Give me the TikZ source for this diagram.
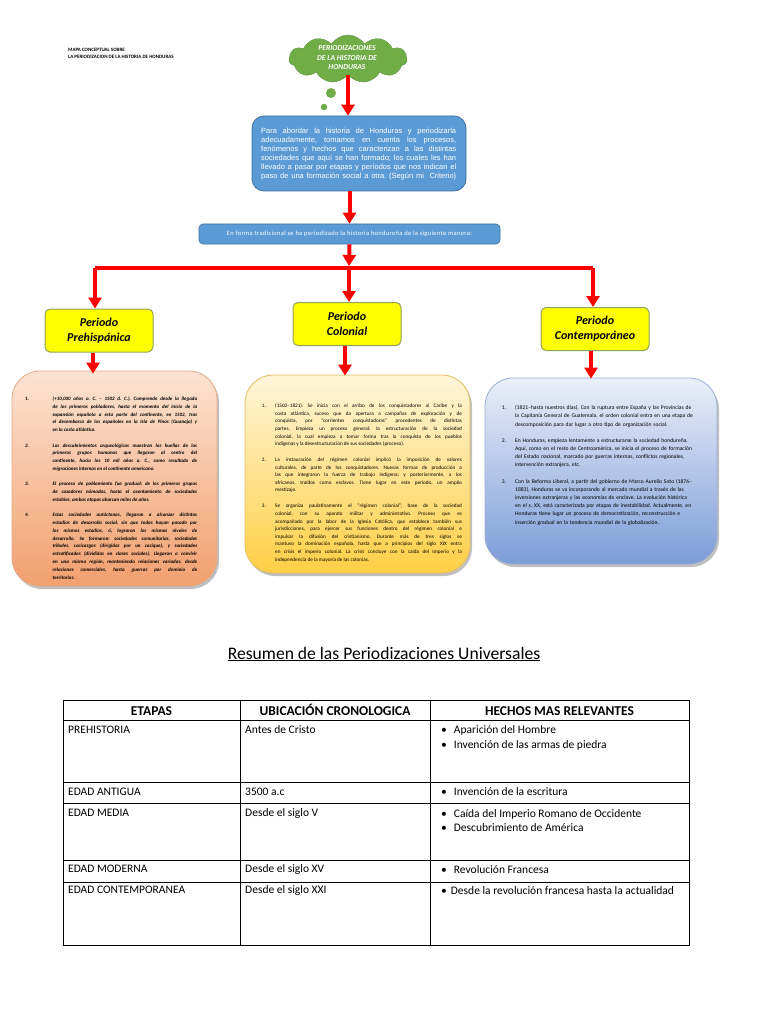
\documentclass[tikz,border=0pt]{standalone}
\usepackage{fontspec}
\setmainfont{Carlito}
\newfontfamily\arialfont{Liberation Sans}
\usetikzlibrary{arrows.meta,shapes.symbols,shadows}
\definecolor{cgreen}{HTML}{70AD47}
\definecolor{bfill}{HTML}{5B9BD5}
\definecolor{bborder}{HTML}{41719C}
\definecolor{yfill}{HTML}{FFFF00}
\definecolor{yborder}{HTML}{8FA35A}
\definecolor{redc}{HTML}{FF0000}
\definecolor{otop}{HTML}{FCE3D3}
\definecolor{obot}{HTML}{F2A06E}
\definecolor{oborder}{HTML}{E3AA88}
\definecolor{gtop}{HTML}{FFF6DA}
\definecolor{gbot}{HTML}{FFCF45}
\definecolor{gborder}{HTML}{E2BE5C}
\definecolor{ltop}{HTML}{EBEFF9}
\definecolor{lbot}{HTML}{7C9DD8}
\definecolor{lborder}{HTML}{98ADD4}
\newcommand\numitem[3]{\par\noindent\hangindent=#1\hangafter=1\makebox[#1][l]{#2}#3\par}
\frenchspacing
\begin{document}
\frenchspacing
\begin{tikzpicture}[x=1pt,y=-1pt,
  redarrow/.style={draw=redc, line width=4pt, -{Triangle[width=13pt,length=11pt]}},
  redline/.style={draw=redc, line width=4pt},
  pbox/.style={draw=yborder, fill=yfill, line width=1pt, rounded corners=5pt,
    minimum width=108pt, minimum height=43pt, align=center, inner sep=0,
    font=\fontsize{12}{15}\selectfont\bfseries\itshape},
  dbox/.style={rounded corners=28pt, line width=0.8pt,
    drop shadow={shadow xshift=2pt, shadow yshift=-3pt, opacity=0.35, fill=black!70}},
  bubble/.style={circle, fill=cgreen, inner sep=0},
  tline/.style={draw=black, line width=0.9pt},
  thead/.style={inner sep=0, anchor=base, font=\fontsize{13.5}{15}\selectfont\bfseries},
  tcell/.style={inner sep=0, anchor=base west, font=\fontsize{11.5}{13}\selectfont}
]
\useasboundingbox[fill=white] (0,0) rectangle (768,1024);

% header title
\node[anchor=north west, inner sep=0, align=left, font=\fontsize{5}{7}\selectfont\bfseries] (maptitle) at (68,48)
  {MAPA CONCEPTUAL SOBRE\\LA PERIODIZACION DE LA HISTORIA DE HONDURAS};

% cloud
\node[cloud, cloud puffs=11, cloud puff arc=115, aspect=2.4, fill=cgreen, draw=cgreen!85!black,
  line width=0.4pt, minimum width=118pt, minimum height=48pt, inner sep=0] (cloud) at (348,59) {};
\node[inner sep=0, align=center, text=white, font=\fontsize{7.6}{9.5}\selectfont\bfseries\itshape] (cloudtxt) at (347,58)
  {PERIODIZACIONES\\DE LA HISTORIA DE\\HONDURAS};
\node[bubble, minimum size=10pt] (bub1) at (331,93) {};
\node[bubble, minimum size=6.5pt] (bub2) at (324,107) {};
\node[bubble, minimum size=2pt] (bub3) at (318.5,117.5) {};

% intro box
\node[draw=bborder, fill=bfill, rounded corners=12pt, line width=0.8pt, minimum width=214pt, minimum height=75pt] (intro) at (359,153.5) {};
\node[anchor=north west, inner sep=0, text width=195pt, align=justify, text=white,
  font=\arialfont\fontsize{7.5}{9}\selectfont] (introtxt) at (261,127.5)
  {\parfillskip=0pt Para abordar la historia de Honduras y periodizarla\linebreak
   adecuadamente, tomamos en cuenta los procesos,\linebreak
   fenómenos y hechos que caracterizan a las distintas\linebreak
   sociedades que aquí se han formado; los cuales les han\linebreak
   llevado a pasar por etapas y períodos que nos indican el\linebreak
   paso de una formación social a otra. (Según mi\ \ Criterio)\par};

% bar
\node[draw=bborder, fill=bfill, rounded corners=4pt, line width=0.6pt, minimum width=301pt, minimum height=20pt,
  text=white, inner sep=0, font=\fontsize{6.5}{8}\selectfont\addfontfeature{LetterSpace=5}] (bar) at (349.5,234)
  {En forma tradicional se ha periodizado la historia hondureña de la siguiente manera:};

% period boxes
\node[pbox] (p1) at (99,330.5) {Periodo\\Prehispánica};
\node[pbox] (p2) at (347,324) {Periodo\\Colonial};
\node[pbox] (p3) at (595,329) {Periodo\\Contemporáneo};

% detail boxes
\node[dbox, draw=oborder, top color=otop, bottom color=obot, minimum width=205pt, minimum height=215pt] (d1) at (114.5,478.5) {};
\node[dbox, draw=gborder, top color=gtop, bottom color=gbot, minimum width=225pt, minimum height=198pt] (d2) at (357.5,474) {};
\node[dbox, draw=lborder, top color=ltop, bottom color=lbot, minimum width=232pt, minimum height=186pt] (d3) at (601,471) {};

\node[anchor=north west, inner sep=0, text width=172pt, align=justify,
  font=\fontsize{5}{7.8}\selectfont\bfseries\itshape] (d1txt) at (25,385)
  {\parskip=7.5pt\frenchspacing
   \numitem{27.5pt}{1.}{(+10,000 años a. C. – 1502 d. C.). Comprende desde la llegada\linebreak de los primeros pobladores, hasta el momento del inicio de la\linebreak expansión española a esta parte del continente, en 1502, tras\linebreak el desembarco de los españoles en la Isla de Pinos (Guanaja) y\linebreak en la costa atlántica.}
   \numitem{27.5pt}{2.}{Los descubrimientos arqueológicos muestran las huellas de los\linebreak primeros grupos humanos que llegaron al centro del\linebreak continente, hacia los 10 mil años a. C., como resultado de\linebreak migraciones internas en el continente americano.}
   \numitem{27.5pt}{3.}{El proceso de poblamiento fue gradual: de los primeros grupos\linebreak de cazadores nómadas, hasta el asentamiento de sociedades\linebreak estables, ambas etapas abarcan miles de años.}
   \numitem{27.5pt}{4.}{Estas sociedades autóctonas, llegaron a alcanzar distintos\linebreak estadios de desarrollo social, sin que todas hayan pasado por\linebreak los mismos estadios, ó, lograran los mismos niveles de\linebreak desarrollo. Se formaron: sociedades comunitarias, sociedades\linebreak tribales, cacicazgos (dirigidas por un cacique), y sociedades\linebreak estratificadas (divididas en clases sociales). Llegaron a convivir\linebreak en una misma región, manteniendo relaciones variadas, desde\linebreak relaciones comerciales, hasta guerras por dominio de\linebreak territorios.}};

\node[anchor=north west, inner sep=0, text width=200pt, align=justify,
  font=\fontsize{5.2}{7.6}\selectfont] (d2txt) at (261.7,391.5)
  {\parskip=8.3pt\frenchspacing
   \numitem{13.3pt}{1.}{(1502–1821). Se inicia con el arribo de los conquistadores al Caribe y la\linebreak costa atlántica, suceso que da apertura a campañas de exploración y de\linebreak conquista, por “corrientes conquistadoras” procedentes de distintas\linebreak partes. Empieza un proceso general: la estructuración de la sociedad\linebreak colonial, la cual empieza a tomar forma tras la conquista de los pueblos\linebreak indígenas y la desestructuración de sus sociedades (proceso).}
   \numitem{13.3pt}{2.}{La instauración del régimen colonial implicó la imposición de valores\linebreak culturales, de parte de los conquistadores. Nuevas formas de producción a\linebreak las que integraron la fuerza de trabajo indígena; y posteriormente, a los\linebreak africanos, traídos como esclavos. Tiene lugar en este período, un amplio\linebreak mestizaje.}
   \numitem{13.3pt}{3.}{Se organiza paulatinamente el “régimen colonial”, base de la sociedad\linebreak colonial, con su aparato militar y administrativo. Proceso que es\linebreak acompañado por la labor de la Iglesia Católica, que establece también sus\linebreak jurisdicciones, para ejercer sus funciones dentro del régimen colonial e\linebreak impulsar la difusión del cristianismo. Durante más de tres siglos se\linebreak mantuvo la dominación española, hasta que a principios del siglo XIX entra\linebreak en crisis el imperio colonial. La crisis concluye con la caída del Imperio y la\linebreak independencia de la mayoría de las colonias.}};

\node[anchor=north west, inner sep=0, text width=210pt, align=left,
  font=\fontsize{5.6}{8.1}\selectfont] (d3txt) at (501.7,393)
  {\parskip=8.5pt\frenchspacing
   \numitem{13.3pt}{1.}{(1821–hasta nuestros días). Con la ruptura entre España y las Provincias de\newline la Capitanía General de Guatemala, el orden colonial entra en una etapa de\newline descomposición para dar lugar a otro tipo de organización social.}
   \numitem{13.3pt}{2.}{En Honduras, empieza lentamente a estructurarse la sociedad hondureña.\newline Aquí, como en el resto de Centroamérica, se inicia el proceso de formación\newline del Estado nacional, marcado por guerras internas, conflictos regionales,\newline intervención extranjera, etc.}
   \numitem{13.3pt}{3.}{Con la Reforma Liberal, a partir del gobierno de Marco Aurelio Soto (1876–\newline 1883), Honduras se va incorporando al mercado mundial a través de las\newline inversiones extranjeras y las economías de enclave. La evolución histórica\newline en el s. XX, está caracterizada por etapas de inestabilidad. Actualmente, en\newline Honduras tiene lugar un proceso de democratización, reconstrucción e\newline inserción gradual en la tendencia mundial de la globalización.}};

% connectors
\coordinate (jc) at (349,268);
\coordinate (jl) at (95,268);
\coordinate (jr) at (593,268);
\draw[redarrow] (cloud.south) -- (cloud.south |- intro.north);
\draw[redarrow] (intro.south -| bar.north) -- (bar.north);
\draw[redarrow] (bar.south) -- ([yshift=2pt]jc);
\draw[redline] (jl) -- (jr);
\draw[redarrow] (jl) -- (jl |- p1.north);
\draw[redarrow] (jc) -- (jc |- p2.north);
\draw[redarrow] (jr) -- (jr |- p3.north);
\draw[redarrow] ([xshift=-6pt]p1.south) -- ([xshift=-6pt,yshift=-3pt]p1.south |- d1.north);
\draw[redarrow] ([xshift=-2pt]p2.south) -- ([xshift=-2pt,yshift=-1pt]p2.south |- d2.north);
\draw[redarrow] ([xshift=-4pt]p3.south) -- ([xshift=-4pt,yshift=-1pt]p3.south |- d3.north);

% table title
\node[inner sep=0, font=\fontsize{17.6}{20}\selectfont] (restitle) at (384,654)
  {\underline{Resumen de las Periodizaciones Universales}};

% table grid
\draw[tline] (63,700) rectangle (689,945);
\foreach \yy in {720,782,803,860,882} \draw[tline] (63,\yy) -- (689,\yy);
\draw[tline] (240,700) -- (240,945);
\draw[tline] (430,700) -- (430,945);

\node[thead] (th1) at (151.5,715) {ETAPAS};
\node[thead] (th2) at (335,715) {UBICACIÓN CRONOLOGICA};
\node[thead] (th3) at (559.5,715) {HECHOS MAS RELEVANTES};

\node[tcell] (r1a) at (68,733) {PREHISTORIA};
\node[tcell] (r1b) at (245,733) {Antes de Cristo};
\node[tcell] (r1c) at (441,733) {\textbullet\hspace{7pt}Aparición del Hombre};
\node[tcell] (r1d) at (441,748) {\textbullet\hspace{7pt}Invención de las armas de piedra};

\node[tcell] (r2a) at (68,795) {EDAD ANTIGUA};
\node[tcell] (r2b) at (245,795) {3500 a.c};
\node[tcell] (r2c) at (441,795) {\textbullet\hspace{7pt}Invención de la escritura};

\node[tcell] (r3a) at (68,816) {EDAD MEDIA};
\node[tcell] (r3b) at (245,816) {Desde el siglo V};
\node[tcell] (r3c) at (441,817) {\textbullet\hspace{7pt}Caída del Imperio Romano de Occidente};
\node[tcell] (r3d) at (441,831) {\textbullet\hspace{7pt}Descubrimiento de América};

\node[tcell] (r4a) at (68,872) {EDAD MODERNA};
\node[tcell] (r4b) at (245,872) {Desde el siglo XV};
\node[tcell] (r4c) at (441,873) {\textbullet\hspace{7pt}Revolución Francesa};

\node[tcell] (r5a) at (68,893) {EDAD CONTEMPORANEA};
\node[tcell] (r5b) at (245,893) {Desde el siglo XXI};
\node[tcell] (r5c) at (441,894) {\textbullet\hspace{4pt}Desde la revolución francesa hasta la actualidad};
\end{tikzpicture}
\end{document}
